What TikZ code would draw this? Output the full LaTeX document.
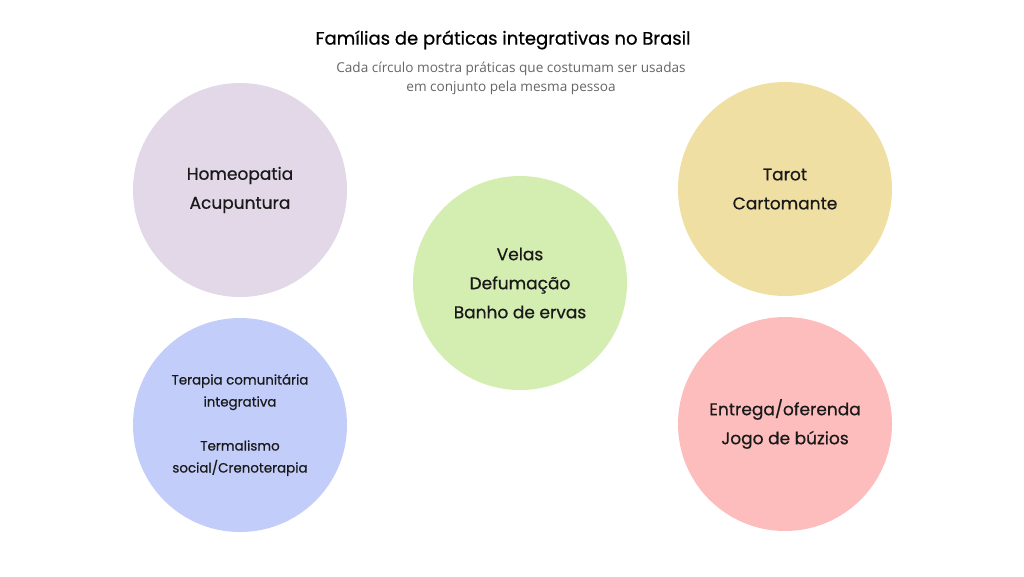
\documentclass[tikz,border=0pt]{standalone}
\usepackage{fontspec}
\setmainfont{Poppins}[FakeBold=0.6]
\newfontfamily\subfont{Open Sans}
\definecolor{lilac}{HTML}{E2D8E8}
\definecolor{bluish}{HTML}{C3CDFA}
\definecolor{lightgreen}{HTML}{D4EDB1}
\definecolor{sand}{HTML}{F0DFA2}
\definecolor{rose}{HTML}{FDBDBD}
\tikzset{
  family/.style={circle, minimum size=214pt, inner sep=0pt, align=center, text=black!90,
    font=\fontsize{17}{29}\selectfont},
  smallfamily/.style={family, font=\fontsize{13.4}{22}\selectfont},
}
\begin{document}
\begin{tikzpicture}[x=1pt,y=-1pt]
	\useasboundingbox[fill=white] (0,0) rectangle (1024,576);
	\node (title) at (503,40) {\fontsize{18}{20}\selectfont Famílias de práticas integrativas no Brasil};
	\node[align=center, text=black!60, font=\subfont\fontsize{13.6}{19}\selectfont] (sub) at (511,78)
		{Cada círculo mostra práticas que costumam ser usadas\\em conjunto pela mesma pessoa};
	\node[family, fill=lilac] (topleft) at (240,190) {Homeopatia\\Acupuntura};
	\node[smallfamily, fill=bluish] (botleft) at (240,425) {Terapia comunitária\\integrativa\\[22pt]Termalismo\\social/Crenoterapia};
	\node[family, fill=lightgreen] (centre) at (520,283) {Velas\\Defumação\\Banho de ervas};
	\node[family, fill=sand] (topright) at (785,189) {Tarot\\Cartomante};
	\node[family, fill=rose] (botright) at (785,424) {Entrega/oferenda\\Jogo de búzios};
\end{tikzpicture}
\end{document}
